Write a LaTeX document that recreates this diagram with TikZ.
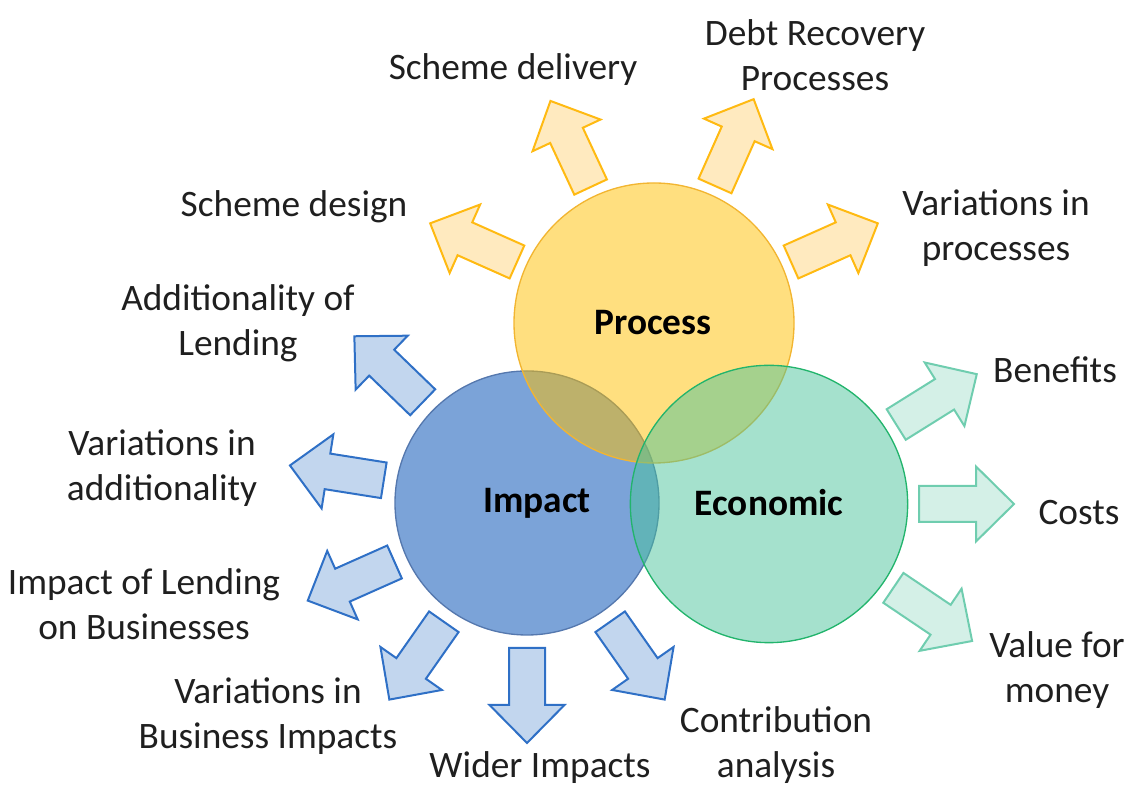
\documentclass[tikz,border=0pt]{standalone}
\usepackage{fontspec}
\setmainfont{Carlito}
\usetikzlibrary{calc}
\definecolor{procfill}{HTML}{FFC000}
\definecolor{procline}{HTML}{F2B531}
\definecolor{procarrowfill}{HTML}{FFEABF}
\definecolor{procarrowline}{HTML}{FFBA12}
\definecolor{impfill}{HTML}{7BA3D8}
\definecolor{impline}{HTML}{5578AE}
\definecolor{imparrowfill}{HTML}{C2D6EE}
\definecolor{imparrowline}{HTML}{2F70C6}
\definecolor{econfill}{HTML}{4BC39B}
\definecolor{econline}{HTML}{22B46C}
\definecolor{econarrowfill}{HTML}{D4F0E7}
\definecolor{econarrowline}{HTML}{6FCDAF}
\tikzset{
  circ/.style={circle, draw, line width=1pt, inner sep=0pt},
  lbl/.style={align=center, font=\fontsize{28}{34}\selectfont, text=black!88},
  head/.style={font=\fontsize{28}{34}\selectfont\bfseries, text=black},
  blk/.style={line width=1.5pt, line join=miter},
  procarrow/.style={blk, draw=procarrowline, fill=procarrowfill},
  imparrow/.style={blk, draw=imparrowline, fill=imparrowfill},
  econarrow/.style={blk, draw=econarrowline, fill=econarrowfill}
}
% block arrow pointing away from a circle: tail at #1, along the x axis
\newcommand{\blockarrow}[1]{(#1,-18) -- ++(57,0) -- ++(0,-19.5) -- ++(38,37.5) -- ++(-38,37.5) -- ++(0,-19.5) -- ++(-57,0) -- cycle}

\begin{document}
\begin{tikzpicture}[x=0.75pt, y=0.75pt]
  \useasboundingbox (0,0) rectangle (1128,787);

  % the three circles
  \node [circ, draw=impline, fill=impfill, minimum size=198pt] at(527,284) (impact) {};
  \node [circ, draw=procline, fill=procfill, fill opacity=0.5, minimum size=210pt] at(654,464) (process) {};
  \node [circ, draw=econline, fill=econfill, fill opacity=0.5, minimum size=208pt] at(769,283) (economic) {};

  \node [head] at(653,464) (processlbl) {Process};
  \node [head] at(537,284) (impactlbl) {Impact};
  \node [head] at(769,284) (economiclbl) {Economic};

  % arrows
  \foreach \a in {156,115,66,24}
    \draw [procarrow, shift={(process.center)}, rotate=\a] \blockarrow{150};
  \foreach \a in {136,171,204,235,270,305}
    \draw [imparrow, shift={(impact.center)}, rotate=\a] \blockarrow{145};
  \foreach \a in {32,0,-34}
    \draw [econarrow, shift={(economic.center)}, rotate=\a] \blockarrow{150};

  % process labels
  \node [lbl] at(513,717) (delivery) {Scheme delivery};
  \node [lbl] at(815,732) (debt) {Debt Recovery\\Processes};
  \node [lbl] at(294,580) (design) {Scheme design};
  \node [lbl] at(996,559) (procvar) {Variations in\\processes};

  % impact labels
  \node [lbl] at(238,464) (addit) {Additionality of\\Lending};
  \node [lbl] at(162,319) (additvar) {Variations in\\additionality};
  \node [lbl] at(144,183) (business) {Impact of Lending\\on Businesses};
  \node [lbl] at(268,71) (busvar) {Variations in\\Business Impacts};
  \node [lbl] at(540,19) (wider) {Wider Impacts};
  \node [lbl] at(776,42) (contrib) {Contribution\\analysis};

  % economic labels
  \node [lbl] at(1055,417) (benefits) {Benefits};
  \node [lbl] at(1079,274) (costs) {Costs};
  \node [lbl] at(1057,117) (value) {Value for\\money};
\end{tikzpicture}
\end{document}
